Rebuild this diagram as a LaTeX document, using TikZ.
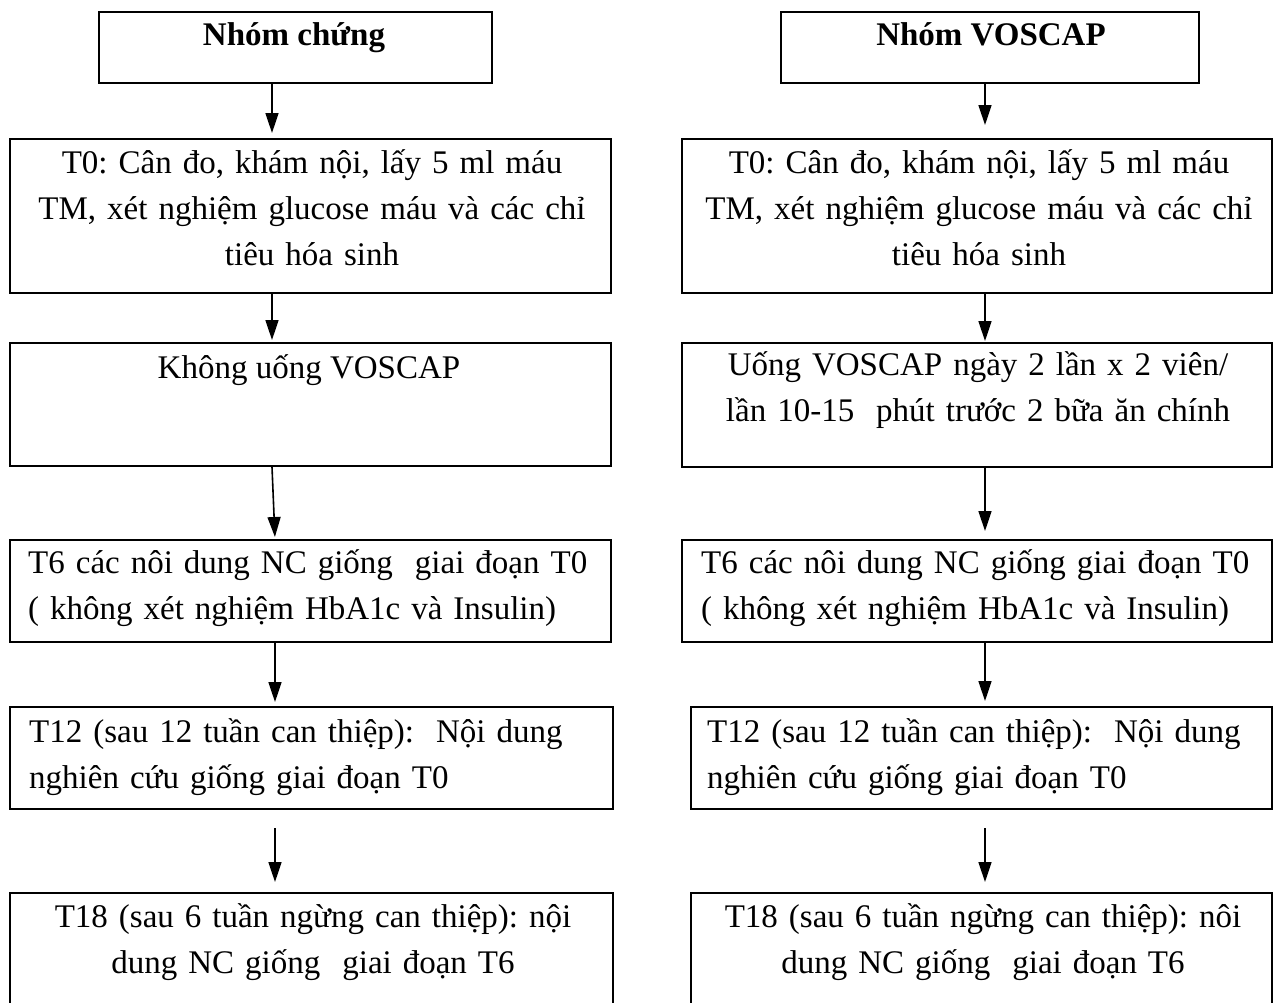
\documentclass[tikz,border=0pt]{standalone}
\usepackage{fontspec}
\setmainfont{Liberation Serif}
\usetikzlibrary{arrows.meta}
\frenchspacing
\begin{document}
\begin{tikzpicture}[x=1pt,y=-1pt,
  box/.style={draw=black,line width=2pt,inner sep=0pt},
  txt/.style={inner sep=0pt,font=\fontsize{33}{46}\selectfont\frenchspacing},
  head/.style={inner sep=0pt,font=\bfseries\fontsize{33}{46}\selectfont},
  arr/.style={line width=1.6pt,-{Triangle[length=20pt,width=13pt]}}]
\useasboundingbox (0,0) rectangle (1277,1002);
\fill[white] (0,0) rectangle (1277,1002);
\clip (0,0) rectangle (1277,1002);
% boxes
\node[box,minimum width=393pt,minimum height=71pt] (L1) at (295.5,47.5) {};
\node[box,minimum width=418pt,minimum height=71pt] (R1) at (990,47.5) {};
\node[box,minimum width=601pt,minimum height=154pt] (L2) at (310.5,216) {};
\node[box,minimum width=590pt,minimum height=154pt] (R2) at (977,216) {};
\node[box,minimum width=601pt,minimum height=123pt] (L3) at (310.5,404.5) {};
\node[box,minimum width=590pt,minimum height=124pt] (R3) at (977,405) {};
\node[box,minimum width=601pt,minimum height=102pt] (L4) at (310.5,591) {};
\node[box,minimum width=590pt,minimum height=102pt] (R4) at (977,591) {};
\node[box,minimum width=603pt,minimum height=102pt] (L5) at (311.5,758) {};
\node[box,minimum width=581pt,minimum height=102pt] (R5) at (981.5,758) {};
\node[box,minimum width=603pt,minimum height=137pt] (L6) at (311.5,961.5) {};
\node[box,minimum width=581pt,minimum height=137pt] (R6) at (981.5,961.5) {};
% texts
\node[head,anchor=base] (L1t) at (294,45) {Nhóm chứng};
\node[head,anchor=base] (R1t) at (991,45) {Nhóm VOSCAP};
\node[txt,text width=590pt,align=center,anchor=base] (L2t) at (312,173)
  {T0: Cân đo, khám nội, lấy 5 ml máu\\TM, xét nghiệm glucose máu và các chỉ\\tiêu hóa sinh};
\node[txt,text width=580pt,align=center,anchor=base] (R2t) at (979,173)
  {T0: Cân đo, khám nội, lấy 5 ml máu\\TM, xét nghiệm glucose máu và các chỉ\\tiêu hóa sinh};
\node[txt,anchor=base] (L3t) at (309,378) {Không uống VOSCAP};
\node[txt,text width=580pt,align=center,anchor=base] (R3t) at (978,375)
  {Uống VOSCAP ngày 2 lần x 2 viên/\\lần 10-15\ \ phút trước 2 bữa ăn chính};
\node[txt,text width=580pt,align=left,anchor=base west] (L4t) at (28,573)
  {T6 các nôi dung NC giống\ \ giai đoạn T0\\( không xét nghiệm HbA1c và Insulin)};
\node[txt,text width=565pt,align=left,anchor=base west] (R4t) at (701,573)
  {T6 các nôi dung NC giống giai đoạn T0\\( không xét nghiệm HbA1c và Insulin)};
\node[txt,text width=580pt,align=left,anchor=base west] (L5t) at (29,742)
  {T12 (sau 12 tuần can thiệp):\ \ Nội dung\\nghiên cứu giống giai đoạn T0};
\node[txt,text width=560pt,align=left,anchor=base west] (R5t) at (707,742)
  {T12 (sau 12 tuần can thiệp):\ \ Nội dung\\nghiên cứu giống giai đoạn T0};
\node[txt,text width=590pt,align=center,anchor=base] (L6t) at (313,927)
  {T18 (sau 6 tuần ngừng can thiệp): nội\\dung NC giống\ \ giai đoạn T6};
\node[txt,text width=570pt,align=center,anchor=base] (R6t) at (983,927)
  {T18 (sau 6 tuần ngừng can thiệp): nôi\\dung NC giống\ \ giai đoạn T6};
% arrow axes
\coordinate (axL) at (272,0);
\coordinate (axLb) at (275,0);
\coordinate (axR) at (985,0);
% arrows left
\draw[arr,shorten >=5pt] (L1.south -| axL) -- (L2.north -| axL);
\draw[arr,shorten >=2pt] (L2.south -| axL) -- (L3.north -| axL);
\draw[arr,shorten >=2pt] (L3.south -| axL) -- (L4.north -| axLb);
\draw[arr,shorten >=4pt] (L4.south -| axLb) -- (L5.north -| axLb);
\draw[arr,shorten <=18pt,shorten >=10pt] (L5.south -| axLb) -- (L6.north -| axLb);
% arrows right
\draw[arr,shorten >=13pt] (R1.south -| axR) -- (R2.north -| axR);
\draw[arr,shorten >=1pt] (R2.south -| axR) -- (R3.north -| axR);
\draw[arr,shorten >=8pt] (R3.south -| axR) -- (R4.north -| axR);
\draw[arr,shorten >=5pt] (R4.south -| axR) -- (R5.north -| axR);
\draw[arr,shorten <=18pt,shorten >=10pt] (R5.south -| axR) -- (R6.north -| axR);
\end{tikzpicture}
\end{document}
